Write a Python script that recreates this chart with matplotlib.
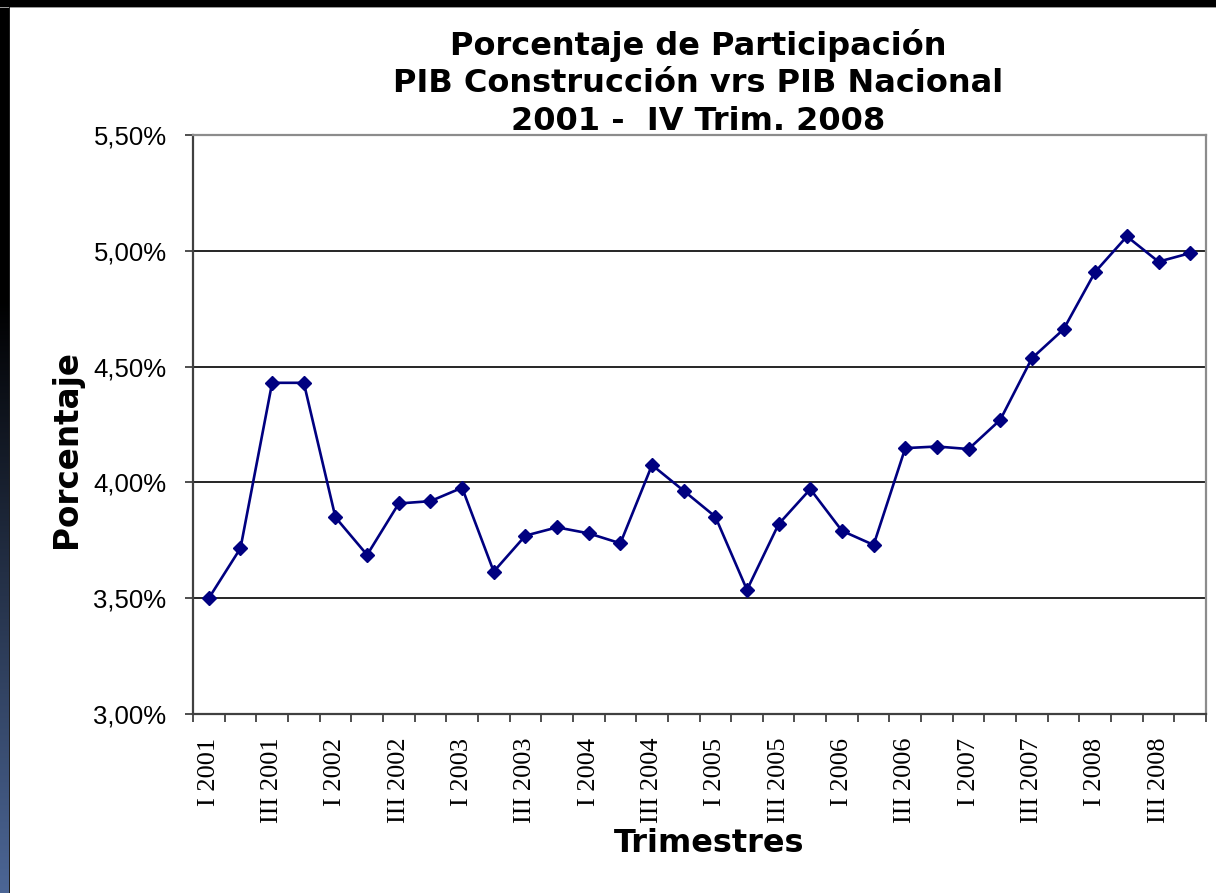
import numpy as np
import matplotlib
matplotlib.use("Agg")
import matplotlib.pyplot as plt
from matplotlib.patches import Rectangle
from matplotlib.ticker import FuncFormatter, FixedLocator

# ---- data ----
quarters = ["I", "II", "III", "IV"]
years = list(range(2001, 2009))
categories = [f"{q} {y}" for y in years for q in quarters]
values = [3.50, 3.716, 4.43, 4.43, 3.849, 3.687, 3.909, 3.919,
          3.977, 3.615, 3.77, 3.806, 3.78, 3.737, 4.075, 3.964,
          3.852, 3.536, 3.82, 3.971, 3.791, 3.73, 4.148, 4.155,
          4.144, 4.27, 4.536, 4.661, 4.909, 5.062, 4.953, 4.99]
yticks = [3.0, 3.5, 4.0, 4.5, 5.0, 5.5]
title_lines = ["Porcentaje de Participación",
               "PIB Construcción vrs PIB Nacional",
               "2001 -  IV Trim. 2008"]

W, H = 1216, 893
fig = plt.figure(figsize=(W / 100, H / 100), dpi=100)
fig.patch.set_facecolor("white")

# slide background: black top band and left gradient band
fig.patches.append(Rectangle((0, 1 - 7 / H), 1, 7 / H, transform=fig.transFigure,
                             facecolor="black", edgecolor="none", zorder=0))
fig.patches.append(Rectangle((0, 1 - 8 / H), 1, 1 / H, transform=fig.transFigure,
                             facecolor="#9a9a9a", edgecolor="none", zorder=0))
gax = fig.add_axes([0, 0, 10 / W, 1 - 7 / H])
grad = np.linspace(0, 1, 400)[:, None]
t = np.clip((grad - 0.33) / 0.67, 0, 1)
top = np.array([0, 0, 0])
bot = np.array([76, 102, 150]) / 255
img = (top[None, None, :] * (1 - t[:, :, None]) + bot[None, None, :] * t[:, :, None])
gax.imshow(img, aspect="auto", extent=[0, 1, 0, 1], origin="upper")
gax.axis("off")
fig.patches.append(Rectangle((9 / W, 0), 1.2 / W, 1 - 7 / H, transform=fig.transFigure,
                             facecolor="#202020", edgecolor="none", zorder=1))

ax = fig.add_axes([193 / W, 1 - 714 / H, (1206 - 193) / W, (714 - 135) / H])
x = np.arange(len(values))
ax.plot(x, values, color="#000080", linewidth=1.9, marker="D", markersize=7.5,
        markerfacecolor="#000080", markeredgecolor="#000080", zorder=3)

ax.set_xlim(-0.5, len(values) - 0.5)
ax.set_ylim(3.0, 5.5)
ax.set_yticks(yticks)
ax.yaxis.set_major_formatter(FuncFormatter(lambda v, p: f"{v:.2f}%".replace(".", ",")))
for v in yticks[1:-1]:
    ax.axhline(v, color="black", linewidth=1.2, zorder=1)

ax.xaxis.set_major_locator(FixedLocator(x[::2]))
ax.set_xticklabels(categories[::2], rotation=90, fontsize=19,
                   family="Liberation Serif", va="top", ha="center")
ax.xaxis.set_minor_locator(FixedLocator(np.arange(-0.5, len(values), 1.0)))
ax.tick_params(axis="x", which="major", length=0, pad=17)
ax.tick_params(axis="x", which="minor", length=6, width=1.3, color="#404040", direction="out")
ax.tick_params(axis="y", which="major", length=6, width=1.3, color="#404040",
               direction="out", pad=13, labelsize=18.5)
for lab in ax.get_yticklabels():
    lab.set_family("Liberation Sans")

for s in ["left", "bottom"]:
    ax.spines[s].set_color("#404040")
    ax.spines[s].set_linewidth(1.6)
for s in ["top", "right"]:
    ax.spines[s].set_color("#8c8c8c")
    ax.spines[s].set_linewidth(1.6)

ax.set_ylabel("Porcentaje", fontsize=23.5, fontweight="bold", family="DejaVu Sans")
ax.yaxis.set_label_coords((67 - 193) / (1206 - 193), (714 - 449) / (714 - 135))
ax.set_xlabel("Trimestres", fontsize=23, fontweight="bold", family="DejaVu Sans")
ax.xaxis.set_label_coords((709 - 193) / (1206 - 193), -(843 - 714) / (714 - 135))
ax.xaxis.label.set_va("center")
ax.yaxis.label.set_va("center")

fig.text(698 / W, 1 - 83 / H, "\n".join(title_lines), ha="center", va="center",
         fontsize=23, fontweight="bold", family="DejaVu Sans", linespacing=1.28)

fig.savefig("out.png", dpi=100, facecolor="white")
